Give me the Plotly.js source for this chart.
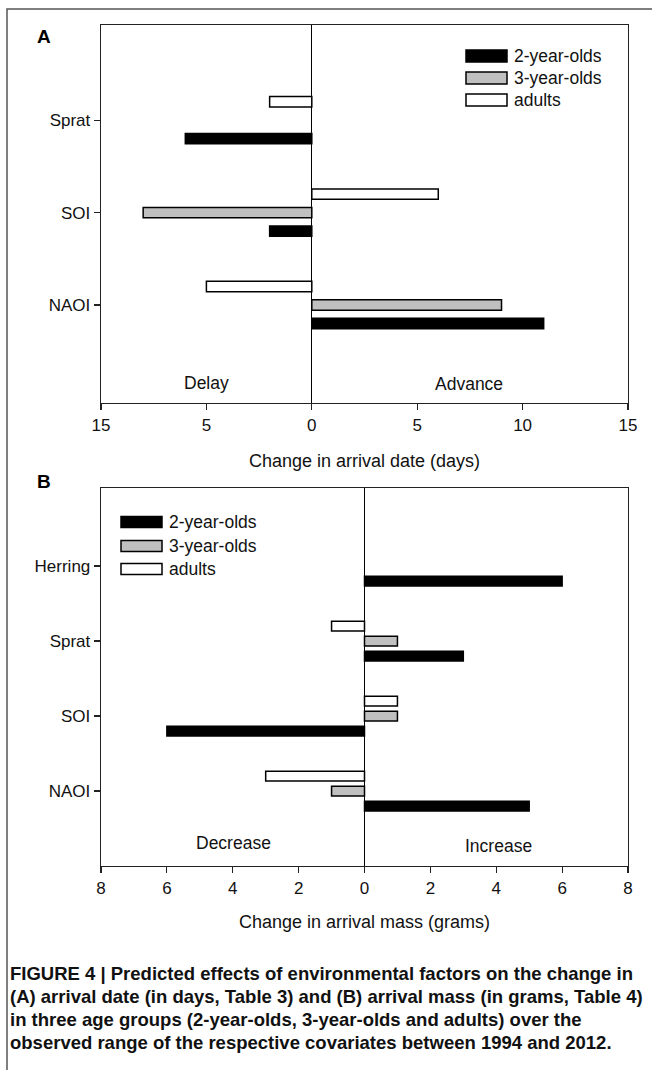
<!DOCTYPE html>
<html>
<head>
<meta charset="utf-8">
<script src="https://cdn.plot.ly/plotly-3.0.1.min.js"></script>
<style>
  html, body { margin: 0; padding: 0; background: #fff; }
  #chart { width: 652px; height: 1070px; }
</style>
</head>
<body>
<div id="chart"></div>
<script>
// ---- Data ----
const seriesNames = ["2-year-olds", "3-year-olds", "adults"];

// Panel A: change in arrival date (days); negative = delay, positive = advance
const catsA = ["NAOI", "SOI", "Sprat"];
const twoYearA = [11, -2, -6];
const threeYearA = [9, -8, null];
const adultsA = [-5, 6, -2];
const tickValsA = [-10, -5, 0, 5, 10, 15];
const tickTextA = ["15", "5", "0", "5", "10", "15"];

// Panel B: change in arrival mass (grams); negative = decrease, positive = increase
const catsB = ["NAOI", "SOI", "Sprat", "Herring"];
const twoYearB = [5, -6, 3, 6];
const threeYearB = [-1, 1, 1, null];
const adultsB = [-3, 1, -1, null];
const tickValsB = [-8, -6, -4, -2, 0, 2, 4, 6, 8];
const tickTextB = ["8", "6", "4", "2", "0", "2", "4", "6", "8"];

const captionLines = [
  "FIGURE 4 | Predicted effects of environmental factors on the change in",
  "(A) arrival date (in days, Table 3) and (B) arrival mass (in grams, Table 4)",
  "in three age groups (2-year-olds, 3-year-olds and adults) over the",
  "observed range of the respective covariates between 1994 and 2012."
];

// ---- Styles ----
const FONT = "Liberation Sans, Arial, Helvetica, sans-serif";
const W = 652, H = 1070;
const fills = ["#000000", "#c0c0c0", "#ffffff"];
const px = v => v / W;
const py = v => 1 - v / H;

function barTrace(name, cats, vals, i, xa, ya, w) {
  return {
    type: "bar", orientation: "h",
    name: name, y: cats, x: vals,
    xaxis: xa, yaxis: ya, showlegend: false,
    width: w,
    marker: { color: fills[i], line: { color: "#000", width: 1.5 } },
    hoverinfo: "skip"
  };
}

const data = [
  barTrace(seriesNames[0], catsA, twoYearA, 0, "x", "y", 0.112),
  barTrace(seriesNames[1], catsA, threeYearA, 1, "x", "y", 0.112),
  barTrace(seriesNames[2], catsA, adultsA, 2, "x", "y", 0.112),
  barTrace(seriesNames[0], catsB, twoYearB, 0, "x2", "y2", 0.13),
  barTrace(seriesNames[1], catsB, threeYearB, 1, "x2", "y2", 0.13),
  barTrace(seriesNames[2], catsB, adultsB, 2, "x2", "y2", 0.13)
];

const axFont = { family: FONT, size: 17, color: "#111" };

function xAxis(tv, tt, rng, title, anchor, standoff) {
  return {
    domain: [px(101), px(628)], anchor: anchor,
    range: rng, tickmode: "array", tickvals: tv, ticktext: tt,
    showgrid: false, zeroline: true, zerolinecolor: "#000", zerolinewidth: 1.2,
    showline: true, linecolor: "#222", linewidth: 1.3, mirror: true,
    ticks: "outside", ticklen: 6, tickwidth: 1.2, tickcolor: "#222",
    tickfont: axFont, fixedrange: true,
    title: { text: title, font: { family: FONT, size: 18, color: "#111" }, standoff: standoff }
  };
}
function yAxis(domainY, rng, anchor) {
  return {
    domain: domainY, anchor: anchor, type: "category",
    range: rng, autorange: false,
    showgrid: false, zeroline: false,
    showline: true, linecolor: "#222", linewidth: 1.3, mirror: true,
    ticks: "outside", ticklen: 6, tickwidth: 1.2, tickcolor: "#222",
    tickfont: axFont, fixedrange: true
  };
}

const annFont = { family: FONT, size: 17.5, color: "#111" };
const annotations = [
  { xref: "paper", yref: "paper", x: px(44), y: py(37), text: "<b>A</b>", showarrow: false,
    font: { family: FONT, size: 19, color: "#000" }, xanchor: "center", yanchor: "middle" },
  { xref: "paper", yref: "paper", x: px(44), y: py(481), text: "<b>B</b>", showarrow: false,
    font: { family: FONT, size: 19, color: "#000" }, xanchor: "center", yanchor: "middle" },
  { xref: "paper", yref: "paper", x: px(206), y: py(383), text: "Delay", showarrow: false,
    font: annFont, xanchor: "center", yanchor: "middle" },
  { xref: "paper", yref: "paper", x: px(469), y: py(384), text: "Advance", showarrow: false,
    font: annFont, xanchor: "center", yanchor: "middle" },
  { xref: "paper", yref: "paper", x: px(233), y: py(843), text: "Decrease", showarrow: false,
    font: annFont, xanchor: "center", yanchor: "middle" },
  { xref: "paper", yref: "paper", x: px(498), y: py(846), text: "Increase", showarrow: false,
    font: annFont, xanchor: "center", yanchor: "middle" }
];
const capY = [973, 996, 1019, 1042];
captionLines.forEach((t, i) => {
  annotations.push({
    xref: "paper", yref: "paper", x: px(8), y: py(capY[i]), text: "<b>" + t + "</b>",
    showarrow: false, xanchor: "left", yanchor: "middle",
    font: { family: FONT, size: 18.5, color: "#111" }
  });
});

// Legend keys (wide rectangular swatches, as in the original figure)
const shapes = [
  { type: "rect", xref: "paper", yref: "paper", x0: px(7), x1: 1.05, y0: -0.05, y1: py(9),
    line: { color: "#555", width: 1.5 }, fillcolor: "rgba(0,0,0,0)", layer: "below" }
];
function addLegend(x0, rows, sw, sh) {
  seriesNames.forEach((name, i) => {
    const yc = rows[i];
    shapes.push({
      type: "rect", xref: "paper", yref: "paper",
      x0: px(x0), x1: px(x0 + sw), y0: py(yc + sh / 2), y1: py(yc - sh / 2),
      fillcolor: fills[i], line: { color: "#000", width: 1.5 }, layer: "above"
    });
    annotations.push({
      xref: "paper", yref: "paper", x: px(x0 + sw + 5), y: py(yc), text: name,
      showarrow: false, xanchor: "left", yanchor: "middle",
      font: { family: FONT, size: 17.5, color: "#111" }
    });
  });
}
addLegend(466, [56, 78, 100], 41, 12);
addLegend(121, [522, 546, 569], 41, 11);

const layout = {
  width: W, height: H,
  margin: { l: 0, r: 0, t: 0, b: 0 },
  paper_bgcolor: "#fff", plot_bgcolor: "#fff",
  font: { family: FONT, color: "#111" },
  barmode: "group", bargap: 0.4, bargroupgap: 0,
  showlegend: false,
  xaxis: xAxis(tickValsA, tickTextA, [-10, 15], "Change in arrival date (days)", "y", 20),
  yaxis: yAxis([py(403), py(25)], [-1.06, 3.03], "x"),
  xaxis2: xAxis(tickValsB, tickTextB, [-8, 8], "Change in arrival mass (grams)", "y2", 18),
  yaxis2: yAxis([py(866), py(488)], [-1.0, 4.04], "x2"),
  annotations: annotations,
  shapes: shapes
};

Plotly.newPlot("chart", data, layout, { displayModeBar: false, staticPlot: true });
</script>
</body>
</html>
